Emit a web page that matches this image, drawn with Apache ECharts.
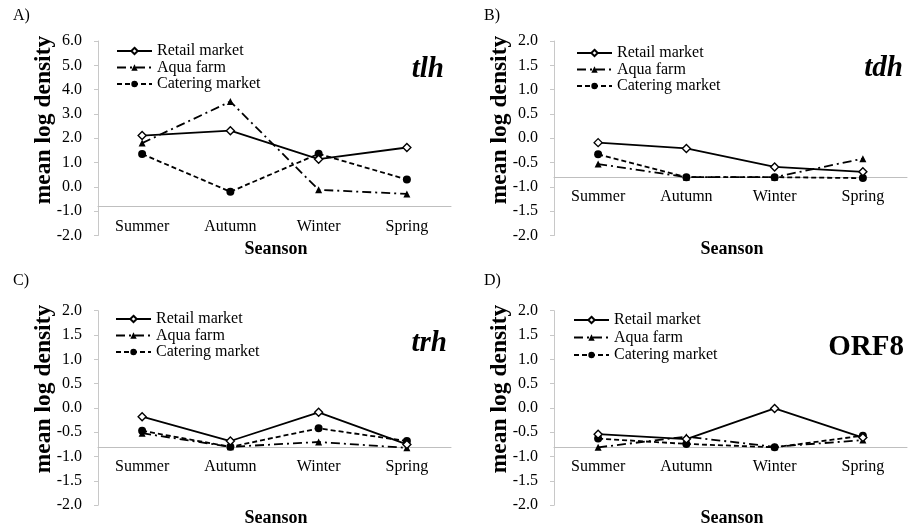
<!DOCTYPE html>
<html>
<head>
<meta charset="utf-8">
<script src="https://cdn.jsdelivr.net/npm/echarts@6/dist/echarts.min.js"></script>
<style>html,body{margin:0;padding:0;background:#fff;}#c{width:912px;height:529px;}</style>
</head>
<body>
<div id="c"></div>
<script>
const categories = ['Summer', 'Autumn', 'Winter', 'Spring'];
const seriesNames = ['Retail market', 'Aqua farm', 'Catering market'];

const tlhRetail   = [2.11, 2.31, 1.14, 1.62];
const tlhAqua     = [1.80, 3.51, -0.12, -0.29];
const tlhCatering = [1.35, -0.20, 1.36, 0.30];

const tdhRetail   = [-0.09, -0.21, -0.59, -0.69];
const tdhAqua     = [-0.53, -0.80, -0.80, -0.42];
const tdhCatering = [-0.33, -0.80, -0.80, -0.82];

const trhRetail   = [-0.18, -0.68, -0.09, -0.75];
const trhAqua     = [-0.52, -0.80, -0.70, -0.82];
const trhCatering = [-0.47, -0.80, -0.42, -0.68];

const orf8Retail   = [-0.54, -0.64, -0.01, -0.61];
const orf8Aqua     = [-0.81, -0.59, -0.80, -0.66];
const orf8Catering = [-0.63, -0.74, -0.81, -0.57];

const yTicksA = { min: -2, max: 6, interval: 1 };
const yTicksBCD = { min: -2, max: 2, interval: 0.5 };
const axisCross = -0.8;

const xTitle = 'Seanson';
const yTitle = 'mean log density';

const FONT = '"Liberation Serif", "Times New Roman", serif';

const panels = [
  { letter: 'A)', gene: 'tlh', italic: true,  data: [tlhRetail, tlhAqua, tlhCatering], ticks: yTicksA,
    left: 98, top: 41, legendLeft: 116, legendTop: 43, legendGap: 0.5, letterX: 13, letterY: 16, geneX: 444, geneY: 70, yTitleX: 44, yTitleY: 120, xTitleX: 276, xTitleY: 249 },
  { letter: 'B)', gene: 'tdh', italic: true,  data: [tdhRetail, tdhAqua, tdhCatering], ticks: yTicksBCD,
    left: 554, top: 41, legendLeft: 576, legendTop: 45, legendGap: 0.5, letterX: 484, letterY: 16, geneX: 903, geneY: 69, yTitleX: 500, yTitleY: 120, xTitleX: 732, xTitleY: 249 },
  { letter: 'C)', gene: 'trh', italic: true,  data: [trhRetail, trhAqua, trhCatering], ticks: yTicksBCD,
    left: 98, top: 310.7, legendLeft: 115, legendTop: 311, legendGap: 0.5, letterX: 13, letterY: 281, geneX: 447, geneY: 344, yTitleX: 44, yTitleY: 389, xTitleX: 276, xTitleY: 518 },
  { letter: 'D)', gene: 'ORF8', italic: false, data: [orf8Retail, orf8Aqua, orf8Catering], ticks: yTicksBCD,
    left: 554, top: 310.7, legendLeft: 573, legendTop: 312, legendGap: 1.5, letterX: 484, letterY: 281, geneX: 904, geneY: 348, yTitleX: 500, yTitleY: 389, xTitleX: 732, xTitleY: 518 }
];
const GRID_W = 353, GRID_H = 194.5;

const seriesStyles = [
  { symbol: 'diamond', symbolSize: 8, lineType: 'solid', fill: '#ffffff' },
  { symbol: 'triangle', symbolSize: 7, lineType: [9, 4, 2, 4], fill: '#000000' },
  { symbol: 'circle', symbolSize: 8, lineType: [5, 3], fill: '#000000' }
];

const grid = [], xAxis = [], yAxis = [], series = [], legend = [], graphic = [];

panels.forEach((p, i) => {
  grid.push({ left: p.left, top: p.top, width: GRID_W, height: GRID_H });
  const off = -((axisCross - p.ticks.min) / (p.ticks.max - p.ticks.min)) * GRID_H;
  xAxis.push({
    type: 'category', gridIndex: i, data: categories, boundaryGap: true, offset: off,
    axisLine: { show: true, onZero: false, lineStyle: { color: '#bfbfbf', width: 1 } },
    axisTick: { show: false },
    axisLabel: { margin: 12, color: '#000', fontFamily: FONT, fontSize: 16 },
    splitLine: { show: false }
  });
  yAxis.push({
    type: 'value', gridIndex: i, min: p.ticks.min, max: p.ticks.max, interval: p.ticks.interval,
    axisLine: { show: true, onZero: false, lineStyle: { color: '#c8c8c8', width: 1 } },
    axisTick: { show: true, length: 4, lineStyle: { color: '#c8c8c8' } },
    axisLabel: { margin: 16, color: '#000', fontFamily: FONT, fontSize: 16, formatter: v => v.toFixed(1) },
    splitLine: { show: false }
  });
  p.data.forEach((vals, k) => {
    const st = seriesStyles[k];
    series.push({
      type: 'line', name: seriesNames[k], xAxisIndex: i, yAxisIndex: i, data: vals,
      symbol: st.symbol, symbolSize: st.symbolSize, showAllSymbol: true,
      lineStyle: { color: '#000', width: 1.8, type: st.lineType },
      itemStyle: { color: st.fill, borderColor: '#000', borderWidth: k === 0 ? 1.4 : 0 },
      z: 3 - k, animation: false
    });
  });
  legend.push({
    orient: 'vertical', left: p.legendLeft, top: p.legendTop, padding: 0, itemWidth: 35, itemHeight: 8, itemGap: p.legendGap,
    data: seriesNames, selectedMode: false,
    textStyle: { color: '#000', fontFamily: FONT, fontSize: 16 }
  });
  graphic.push(
    { type: 'text', x: p.letterX, y: p.letterY, style: { text: p.letter, font: '16px ' + FONT, fill: '#000', textVerticalAlign: 'middle' } },
    { type: 'text', x: p.geneX, y: p.geneY, style: { text: p.gene, font: (p.italic ? 'italic ' : '') + 'bold 29px ' + FONT, fill: '#000', textAlign: 'right', textVerticalAlign: 'middle' } },
    { type: 'text', x: p.yTitleX, y: p.yTitleY, rotation: Math.PI / 2, style: { text: yTitle, font: 'bold 23.5px ' + FONT, fill: '#000', textAlign: 'center', textVerticalAlign: 'middle' } },
    { type: 'text', x: p.xTitleX, y: p.xTitleY, style: { text: xTitle, font: 'bold 18px ' + FONT, fill: '#000', textAlign: 'center', textVerticalAlign: 'middle' } }
  );
});

const chart = echarts.init(document.getElementById('c'), null, { renderer: 'canvas' });
chart.setOption({
  animation: false,
  backgroundColor: '#fff',
  grid, xAxis, yAxis, series, legend, graphic
});
</script>
</body>
</html>
